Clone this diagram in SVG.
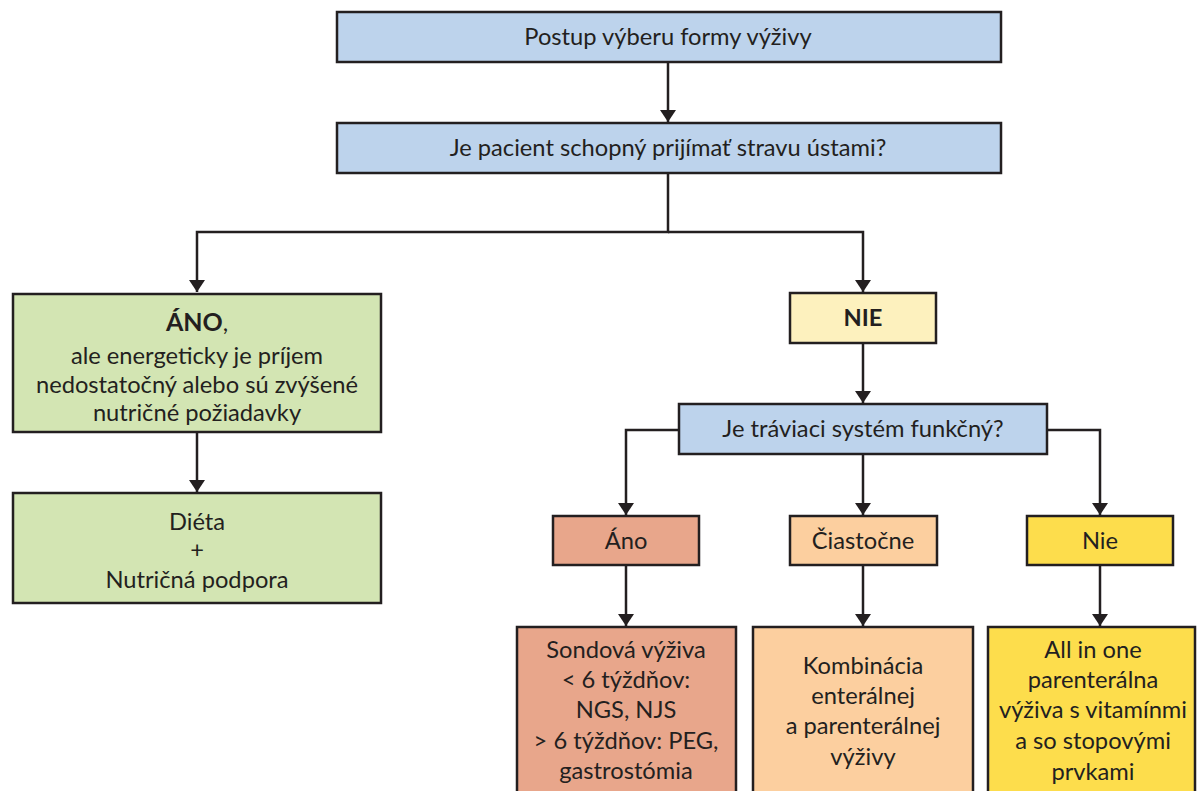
<svg xmlns="http://www.w3.org/2000/svg" width="1197" height="791" viewBox="0 0 1197 791">
<defs>
<marker id="arr" viewBox="0 0 12 16" refX="12" refY="8" markerWidth="12" markerHeight="16" markerUnits="userSpaceOnUse" orient="auto">
<path d="M0,0 L12,8 L0,16 Z" fill="#231f20"/>
</marker>
<style>
.box{stroke:#231f20;stroke-width:2.5}
.blue{fill:#bdd3ec}
.green{fill:#d3e5b3}
.pale{fill:#fdf1be}
.salmon{fill:#e8a68b}
.peach{fill:#fccf9f}
.yellow{fill:#fddd4c}
text{font-family:Lato,"Liberation Sans",sans-serif;font-size:23.7px;fill:#231f20;text-anchor:middle}
.b{font-weight:bold}
.c{fill:none;stroke:#231f20;stroke-width:2.5}
</style>
</defs>
<rect width="1197" height="791" fill="#ffffff"/>
<g id="connectors">
<path class="c" d="M668,62 V122" marker-end="url(#arr)"/>
<path class="c" d="M668,173 V232 H197 V292" marker-end="url(#arr)"/>
<path class="c" d="M668,232 H863 V292" marker-end="url(#arr)"/>
<path class="c" d="M197,432 V492" marker-end="url(#arr)"/>
<path class="c" d="M863,343 V403" marker-end="url(#arr)"/>
<path class="c" d="M679,430 H626 V515" marker-end="url(#arr)"/>
<path class="c" d="M863,454 V515" marker-end="url(#arr)"/>
<path class="c" d="M1047,430 H1100 V515" marker-end="url(#arr)"/>
<path class="c" d="M626,565 V626" marker-end="url(#arr)"/>
<path class="c" d="M863,565 V626" marker-end="url(#arr)"/>
<path class="c" d="M1100,565 V626" marker-end="url(#arr)"/>
</g>
<g id="n1"><rect class="box blue" x="337" y="12" width="664" height="50"/><text x="668" y="45">Postup výberu formy výživy</text></g>
<g id="n2"><rect class="box blue" x="337" y="123" width="664" height="50"/><text x="668" y="156">Je pacient schopný prijímať stravu ústami?</text></g>
<g id="n3"><rect class="box green" x="13" y="294" width="368" height="138"/>
<text x="197" y="331"><tspan class="b" font-size="25px">ÁNO</tspan>,</text>
<text x="197" y="364">ale energeticky je príjem</text>
<text x="197" y="393">nedostatočný alebo sú zvýšené</text>
<text x="197" y="421">nutričné požiadavky</text></g>
<g id="n4"><rect class="box green" x="13" y="493" width="368" height="110"/>
<text x="197" y="530">Diéta</text><text x="197" y="558">+</text><text x="197" y="588">Nutričná podpora</text></g>
<g id="n5"><rect class="box pale" x="790" y="293" width="146" height="50"/><text class="b" x="863" y="326">NIE</text></g>
<g id="n6"><rect class="box blue" x="679" y="404" width="368" height="50"/><text x="863" y="437">Je tráviaci systém funkčný?</text></g>
<g id="n7"><rect class="box salmon" x="553" y="516" width="146" height="49"/><text x="626" y="549">Áno</text></g>
<g id="n8"><rect class="box peach" x="790" y="516" width="147" height="49"/><text x="863" y="549">Čiastočne</text></g>
<g id="n9"><rect class="box yellow" x="1027" y="516" width="146" height="49"/><text x="1100" y="549">Nie</text></g>
<g id="n10"><rect class="box salmon" x="517" y="627" width="219" height="180"/>
<text x="626" y="658">Sondová výživa</text><text x="626" y="688">&lt; 6 týždňov:</text><text x="626" y="718">NGS, NJS</text><text x="626" y="749">&gt; 6 týždňov: PEG,</text><text x="626" y="779">gastrostómia</text></g>
<g id="n11"><rect class="box peach" x="753" y="627" width="220" height="180"/>
<text x="863" y="674">Kombinácia</text><text x="863" y="704">enterálnej</text><text x="863" y="734">a parenterálnej</text><text x="863" y="765">výživy</text></g>
<g id="n12"><rect class="box yellow" x="988" y="627" width="207" height="180"/>
<text x="1093" y="658">All in one</text><text x="1093" y="688">parenterálna</text><text x="1093" y="718">výživa s vitamínmi</text><text x="1093" y="749">a so stopovými</text><text x="1093" y="780">prvkami</text></g>
</svg>
